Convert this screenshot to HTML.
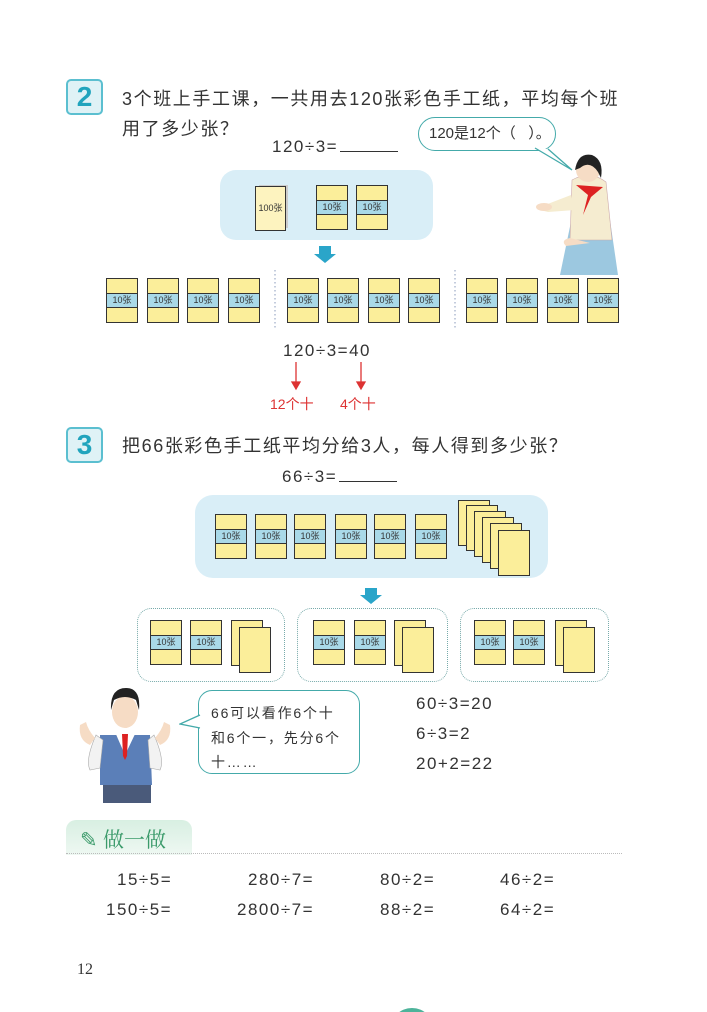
<!DOCTYPE html>
<html><head><meta charset="utf-8"><style>
body{margin:0;width:707px;height:1012px;background:#fff;position:relative;overflow:hidden;font-family:"Liberation Sans","Noto Sans CJK SC",sans-serif;color:#333}
.a{position:absolute;white-space:nowrap}
.p{position:absolute;width:30px;height:43px;border:1.5px solid #333;background:#fbee9a}
.p i{position:absolute;left:0;right:0;top:14px;height:13px;background:#a9d9e8;border-top:1px solid #333;border-bottom:1px solid #333;font-style:normal;font-size:9px;line-height:13px;text-align:center;color:#333}
.s{position:absolute;width:30px;height:44px;border:1.3px solid #333;background:#fbee9a}
.badge{position:absolute;width:33px;height:32px;border:2px solid #5bbfd0;border-radius:5px;background:#dff2f6;color:#21a4bd;font-weight:bold;font-size:28px;line-height:32px;text-align:center}
.t{font-size:18px;letter-spacing:1.6px}
.eq{font-size:17px;letter-spacing:1.5px}
.db{position:absolute;border:1.5px dotted #7aa;border-radius:14px}
</style></head><body>
<div class="badge" style="left:66px;top:79px">2</div>
<div class="a t" style="left:122px;top:85px">3个班上手工课，一共用去120张彩色手工纸，平均每个班</div>
<div class="a t" style="left:122px;top:115px">用了多少张？</div>
<div class="a eq" style="left:272px;top:137px">120÷3=<span style="display:inline-block;width:58px;border-bottom:1px solid #333;margin-left:2px"></span></div>
<div class="a" style="left:418px;top:117px;width:136px;height:32px;border:1.3px solid #4aa;border-radius:17px;font-size:15px;line-height:32px;text-indent:10px;background:#fff">120是12个（&nbsp;&nbsp;&nbsp;）。</div>
<svg class="a" style="left:0;top:0" width="707" height="1012">
<path d="M535 148 L572 170 L548 149" fill="#fff" stroke="#4aa" stroke-width="1.3"/>
<path d="M319 246h12v8h5l-11 9-11-9h5z" fill="#2aa5c9"/>
<path d="M365 588h12v7h5l-11 9-11-9h5z" fill="#2aa5c9"/>
<g stroke="#d33" stroke-width="1.3" fill="#d33"><line x1="296" y1="362" x2="296" y2="385"/><path d="M292 382l4 7 4-7z"/><line x1="361" y1="362" x2="361" y2="385"/><path d="M357 382l4 7 4-7z"/></g>
<g stroke="#89b" stroke-dasharray="1.5 2.5"><line x1="275" y1="270" x2="275" y2="330"/><line x1="455" y1="270" x2="455" y2="330"/></g>
<path d="M573 212 Q595 205 610 220 L618 275 L560 275 Z" fill="#9cc8e0"/>
<path d="M572 180 Q590 170 606 182 L612 240 L570 240 Z" fill="#f5ecd0" stroke="#caa" stroke-width=".6"/>
<path d="M576 185l12 10-5 20 8-18 12-10z" fill="#d22"/>
<circle cx="588" cy="170" r="12" fill="#f6dcc5"/>
<path d="M575 170 Q578 152 592 155 Q604 160 601 178 L598 172 Q590 160 580 168z" fill="#222"/>
<path d="M571 195 L545 205 L540 210 L548 212 L575 210z" fill="#f5ecd0"/>
<ellipse cx="544" cy="207" rx="8" ry="4" fill="#f6dcc5"/>
<path d="M570 238 Q560 240 566 246 L590 243z" fill="#f6dcc5"/>
<path d="M100 735 L150 735 L152 785 L100 785 Z" fill="#5b7fb8"/>
<path d="M103 785h48v18h-48z" fill="#4a5a7a"/>
<path d="M96 735 Q85 760 90 770 L100 768 L103 740z M154 735 Q165 760 160 770 L150 768 L148 740z" fill="#f2f2f2" stroke="#aaa" stroke-width=".6"/>
<path d="M115 732 L136 732 L125 755z" fill="#fff"/>
<path d="M122 734l6 0 -1 22-2 4-2-4z" fill="#d22"/>
<ellipse cx="125" cy="712" rx="13" ry="16" fill="#f6dcc5"/>
<path d="M111 710 Q110 688 126 688 Q141 688 139 710 L136 700 Q125 694 114 700z" fill="#222"/>
<path d="M80 725 Q78 740 90 745 L95 738 Q88 730 86 722z" fill="#f6dcc5"/>
<path d="M170 725 Q172 740 160 745 L155 738 Q162 730 164 722z" fill="#f6dcc5"/>
<circle cx="412" cy="1030" r="22" fill="#4db39a"/>
</svg>
<div class="a" style="left:198px;top:690px;width:160px;height:82px;border:1.3px solid #4aa;border-radius:14px;background:#fff"></div>
<svg class="a" style="left:179px;top:714px" width="22" height="16"><path d="M21 1 L1 10 L21 14" fill="#fff" stroke="#4aa" stroke-width="1.3"/></svg>
<div class="a" style="left:211px;top:701px;font-size:14px;line-height:24.5px;letter-spacing:1.8px">66可以看作6个十<br>和6个一，先分6个<br>十……</div>
<div class="a" style="left:220px;top:170px;width:213px;height:70px;background:#d9eef7;border-radius:16px"></div>
<div class="a" style="left:255px;top:186px;width:29px;height:43px;border:1.5px solid #333;background:#fdf3bf;box-shadow:3px -2px 0 -1px #ccc;font-size:9px;line-height:43px;text-align:center">100张</div>
<div class="p" style="left:316px;top:185px"><i>10张</i></div>
<div class="p" style="left:356px;top:185px"><i>10张</i></div>
<div class="p" style="left:106px;top:278px"><i>10张</i></div>
<div class="p" style="left:147px;top:278px"><i>10张</i></div>
<div class="p" style="left:187px;top:278px"><i>10张</i></div>
<div class="p" style="left:228px;top:278px"><i>10张</i></div>
<div class="p" style="left:287px;top:278px"><i>10张</i></div>
<div class="p" style="left:327px;top:278px"><i>10张</i></div>
<div class="p" style="left:368px;top:278px"><i>10张</i></div>
<div class="p" style="left:408px;top:278px"><i>10张</i></div>
<div class="p" style="left:466px;top:278px"><i>10张</i></div>
<div class="p" style="left:506px;top:278px"><i>10张</i></div>
<div class="p" style="left:547px;top:278px"><i>10张</i></div>
<div class="p" style="left:587px;top:278px"><i>10张</i></div>
<div class="a eq" style="left:283px;top:341px">120÷3=40</div>
<div class="a" style="left:270px;top:394px;font-size:14px;color:#d33">12个十</div>
<div class="a" style="left:340px;top:394px;font-size:14px;color:#d33">4个十</div>
<div class="badge" style="left:66px;top:427px">3</div>
<div class="a t" style="left:122px;top:432px">把66张彩色手工纸平均分给3人，每人得到多少张？</div>
<div class="a eq" style="left:282px;top:467px">66÷3=<span style="display:inline-block;width:58px;border-bottom:1px solid #333;margin-left:2px"></span></div>
<div class="a" style="left:195px;top:495px;width:353px;height:83px;background:#d9eef7;border-radius:18px"></div>
<div class="p" style="left:215px;top:514px"><i>10张</i></div>
<div class="p" style="left:255px;top:514px"><i>10张</i></div>
<div class="p" style="left:294px;top:514px"><i>10张</i></div>
<div class="p" style="left:335px;top:514px"><i>10张</i></div>
<div class="p" style="left:374px;top:514px"><i>10张</i></div>
<div class="p" style="left:415px;top:514px"><i>10张</i></div>
<div class="s" style="left:458px;top:500px"></div>
<div class="s" style="left:466px;top:505px"></div>
<div class="s" style="left:474px;top:511px"></div>
<div class="s" style="left:482px;top:517px"></div>
<div class="s" style="left:490px;top:523px"></div>
<div class="s" style="left:498px;top:530px"></div>
<div class="db" style="left:137px;top:608px;width:146px;height:72px"></div>
<div class="db" style="left:297px;top:608px;width:149px;height:72px"></div>
<div class="db" style="left:460px;top:608px;width:147px;height:72px"></div>
<div class="p" style="left:150px;top:620px"><i>10张</i></div>
<div class="p" style="left:190px;top:620px"><i>10张</i></div>
<div class="s" style="left:231px;top:620px"></div><div class="s" style="left:239px;top:627px"></div>
<div class="p" style="left:313px;top:620px"><i>10张</i></div>
<div class="p" style="left:354px;top:620px"><i>10张</i></div>
<div class="s" style="left:394px;top:620px"></div><div class="s" style="left:402px;top:627px"></div>
<div class="p" style="left:474px;top:620px"><i>10张</i></div>
<div class="p" style="left:513px;top:620px"><i>10张</i></div>
<div class="s" style="left:555px;top:620px"></div><div class="s" style="left:563px;top:627px"></div>
<div class="a eq" style="left:416px;top:694px">60÷3=20</div>
<div class="a eq" style="left:416px;top:724px">6÷3=2</div>
<div class="a eq" style="left:416px;top:754px">20+2=22</div>
<div class="a" style="left:66px;top:820px;width:126px;height:35px;background:linear-gradient(#d8efe2,#eef8f2);border-radius:10px 10px 0 0"></div>
<div class="a" style="left:80px;top:824px;font-size:21px;color:#3a9a6a;font-family:'Noto Serif CJK SC',serif">✎ 做一做</div>
<div class="a" style="left:66px;top:853px;width:556px;border-top:1.5px dotted #bbb"></div>
<div class="a eq" style="left:117px;top:870px">15÷5=</div>
<div class="a eq" style="left:106px;top:900px">150÷5=</div>
<div class="a eq" style="left:248px;top:870px">280÷7=</div>
<div class="a eq" style="left:237px;top:900px">2800÷7=</div>
<div class="a eq" style="left:380px;top:870px">80÷2=</div>
<div class="a eq" style="left:380px;top:900px">88÷2=</div>
<div class="a eq" style="left:500px;top:870px">46÷2=</div>
<div class="a eq" style="left:500px;top:900px">64÷2=</div>
<div class="a" style="left:77px;top:961px;font-size:16px;font-family:'Liberation Serif',serif">12</div>
</body></html>
